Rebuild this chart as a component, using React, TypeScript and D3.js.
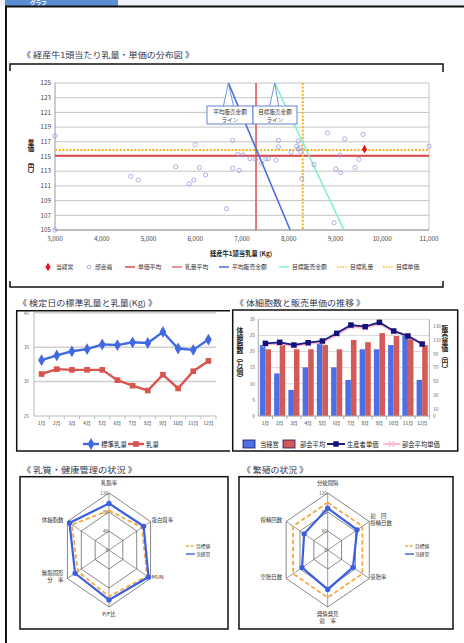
import React from 'react';
import * as d3 from 'd3';

const FONT = "'Noto Sans CJK JP','Noto Sans',sans-serif";

// ---------- scatter: milk per cow vs unit price ----------
const memberMilk = [3000, 3000, 4620, 4780, 5580, 5870, 5970, 6000, 6090, 6220, 6670, 6800, 6800, 6910, 6940, 7020, 7170, 7290, 7420, 7510, 7560, 7730, 7780, 7780, 8050, 8170, 8200, 8200, 8240, 8260, 8280, 8540, 8830, 9010, 9110, 9100, 8970, 9200, 9420, 9500, 9590, 11000];
const memberPrice = [117.8, 105, 112.3, 111.8, 113.6, 111.3, 111.8, 116.6, 113.5, 112.5, 107.9, 117.2, 113.4, 115.3, 113.1, 115.2, 114.7, 114.6, 114.1, 114.7, 114.7, 114.5, 117.2, 116.3, 115.6, 116.4, 117.1, 116.0, 116.2, 115.6, 112.0, 113.9, 118.2, 113.3, 112.8, 115.2, 106.0, 117.4, 113.5, 114.6, 118.0, 116.4];
const ownMilk = [9620];
const ownPrice = [116.0];
const avgPrice = 115.1;
const avgMilk = 7300;
const targetMilk = 8300;
const targetPrice = 115.9;
const avgRevMilk = [6710, 8030];
const avgRevPrice = [125, 105];
const tgtRevMilk = [7700, 9180];
const tgtRevPrice = [125, 105];
const milkTicks = [3000, 4000, 5000, 6000, 7000, 8000, 9000, 10000, 11000];
const priceTicks = [105, 107, 109, 111, 113, 115, 117, 119, 121, 123, 125];

// ---------- line chart ----------
const months = ['1月', '2月', '3月', '4月', '5月', '6月', '7月', '8月', '9月', '10月', '11月', '12月'];
const standardMilk = [33.1, 33.8, 34.4, 34.7, 35.4, 35.3, 35.7, 35.6, 37.2, 34.8, 34.6, 36.1];
const actualMilk = [31.1, 31.8, 31.7, 31.7, 31.7, 30.2, 29.4, 28.7, 31.0, 29.0, 31.5, 33.0];
const milkAxisTicks = [25, 30, 35, 40];

// ---------- bar + line chart ----------
const sccOwn = [22.0, 13.2, 8.1, 15.1, 22.6, 15.1, 11.2, 20.7, 20.7, 22.0, 25.2, 11.2];
const sccAvg = [20.7, 22.4, 20.7, 20.7, 22.0, 20.7, 23.6, 22.9, 25.7, 24.8, 23.8, 22.0];
const priceOwn = [105.2, 106.7, 102.8, 106.1, 108.6, 119.7, 131.7, 129.3, 135.6, 123.1, 115.8, 104.2];
const priceAvg = [103.8, 105.4, 101.8, 104.9, 107.3, 117.8, 129.6, 128.0, 134.0, 121.8, 116.4, 104.4];
const sccTicks = [0, 5, 10, 15, 20, 25, 30];
const priceAxisTicks = [0, 10, 30, 50, 70, 90, 110, 130];

// ---------- radars ----------
const qualityLabels = [['乳脂率'], ['蛋白質率'], ['MUN'], ['P/F比'], ['無脂固形', '分　率'], ['体細胞数']];
const qualityOwn = [98, 100, 114, 105, 98, 114];
const qualityTarget = [83, 95, 110, 98, 90, 107];
const breedingLabels = [['分娩間隔'], ['初　回', '授精日数'], ['受胎率'], ['発情発見', '効　率'], ['空胎日数'], ['授精回数']];
const breedingOwn = [88, 85, 73, 83, 74, 68];
const breedingTarget = [100, 100, 100, 100, 100, 100];
const radarTicks = [0, 40, 80, 120];

const BLUE = '#4169e1';
const RED = '#d9534f';

function Title({ x, y, text, len }: { x: number; y: number; text: string; len: number }) {
  return (
    <text x={x} y={y} fontSize={8} fill="#2f3550" textLength={len} lengthAdjust="spacingAndGlyphs">{text}</text>
  );
}

function Scatter() {
  const x = d3.scaleLinear().domain([3000, 11000]).range([55, 429]);
  const y = d3.scaleLinear().domain([105, 125]).range([230, 83]);
  const fmt = d3.format(',');
  const line = d3.line<[number, number]>().x(d => x(d[0])).y(d => y(d[1]));
  const avgPts = avgRevMilk.map((m, i) => [m, avgRevPrice[i]] as [number, number]);
  const tgtPts = tgtRevMilk.map((m, i) => [m, tgtRevPrice[i]] as [number, number]);
  const diamond = d3.symbol().type(d3.symbolDiamond).size(22)() as string;
  const legend = [
    { t: '当経営', kind: 'diamond', x: 48 },
    { t: '部会員', kind: 'circle', x: 89 },
    { t: '単価平均', kind: 'line', c: '#e04848', x: 125 },
    { t: '乳量平均', kind: 'line', c: '#e07070', x: 172 },
    { t: '平均販売金額', kind: 'line', c: '#4a6fe0', x: 219 },
    { t: '目標販売金額', kind: 'line', c: '#7ff0cc', x: 279 },
    { t: '目標乳量', kind: 'dot', c: '#f5b83a', x: 337 },
    { t: '目標単価', kind: 'dot', c: '#f5b83a', x: 383 },
  ];
  const a1 = avgPts[0];
  const a2 = tgtPts[0];
  return (
    <g>
      <Title x={22} y={58} text="《 経産牛1頭当たり乳量・単価の分布図 》" len={172} />
      <path d="M10,71 V64 H443 V72" fill="none" stroke="#111" strokeWidth={1.5} />
      <path d="M10,281 V287 H443 V281" fill="none" stroke="#111" strokeWidth={1.5} />
      {priceTicks.map(t => (
        <g key={t}>
          <line x1={55} x2={429} y1={y(t)} y2={y(t)} stroke="#c4c4c4" strokeWidth={1} />
          <text x={51} y={y(t) + 2.2} fontSize={6.3} textAnchor="end" fill="#444">{t}</text>
        </g>
      ))}
      <line x1={55} x2={55} y1={83} y2={230} stroke="#9a9a9a" />
      <line x1={429} x2={429} y1={83} y2={230} stroke="#c4c4c4" />
      <line x1={55} x2={429} y1={230} y2={230} stroke="#9a9a9a" />
      {milkTicks.map(t => (
        <text key={t} x={x(t)} y={241} fontSize={6.3} textAnchor="middle" fill="#444">{fmt(t)}</text>
      ))}
      <text x={241} y={256} fontSize={6.3} textAnchor="middle" fill="#222" fontWeight="bold">経産牛1頭当乳量 (Kg)</text>
      <text x={31} y={139} fontSize={6.5} fill="#222" fontWeight="bold" style={{ writingMode: 'vertical-rl' }}>単価</text>
      <text x={31} y={158} fontSize={6.5} fill="#222" fontWeight="bold" style={{ writingMode: 'vertical-rl' }}>（円）</text>
      {/* reference lines */}
      <line x1={55} x2={429} y1={y(avgPrice)} y2={y(avgPrice)} stroke="#e04848" strokeWidth={2} />
      <line x1={x(avgMilk)} x2={x(avgMilk)} y1={83} y2={230} stroke="#e05858" strokeWidth={1.6} />
      <line x1={55} x2={429} y1={y(targetPrice)} y2={y(targetPrice)} stroke="#f5b020" strokeWidth={2} strokeDasharray="2,1.6" />
      <line x1={x(targetMilk)} x2={x(targetMilk)} y1={83} y2={230} stroke="#f5b020" strokeWidth={2} strokeDasharray="2,1.6" />
      <path d={line(avgPts) || ''} stroke="#4a6fe0" strokeWidth={1.6} fill="none" />
      <path d={line(tgtPts) || ''} stroke="#7ff0cc" strokeWidth={1.6} fill="none" />
      {memberMilk.map((m, i) => (
        <circle key={i} cx={x(m)} cy={y(memberPrice[i])} r={2.1} fill="none" stroke="#9b9be0" strokeWidth={0.8} />
      ))}
      {ownMilk.map((m, i) => (
        <path key={i} d={diamond} transform={`translate(${x(m)},${y(ownPrice[i])})`} fill="#ee1111" />
      ))}
      {/* callouts */}
      <path d={`M${x(a1[0]) - 5},106 L${x(a1[0])},${y(a1[1])} L${x(a1[0]) + 5},106`} fill="#fff" stroke="#5577cc" strokeWidth={0.8} />
      <rect x={207} y={106} width={46} height={18} fill="#fff" stroke="#5577cc" strokeWidth={0.9} />
      <text x={230} y={114} fontSize={5.6} textAnchor="middle" fill="#333">平均販売金額</text>
      <text x={230} y={121.5} fontSize={5.6} textAnchor="middle" fill="#333">ライン</text>
      <path d={`M${x(a2[0]) - 5},106 L${x(a2[0])},${y(a2[1])} L${x(a2[0]) + 4},106`} fill="#fff" stroke="#5577cc" strokeWidth={0.8} />
      <rect x={253} y={106} width={44} height={18} fill="#fff" stroke="#5577cc" strokeWidth={0.9} />
      <text x={275} y={114} fontSize={5.6} textAnchor="middle" fill="#333">目標販売金額</text>
      <text x={275} y={121.5} fontSize={5.6} textAnchor="middle" fill="#333">ライン</text>
      {/* legend */}
      {legend.map(l => {
        const ly = 267;
        let sym = null;
        let tx = l.x + 13;
        if (l.kind === 'diamond') { sym = <path d={diamond} transform={`translate(${l.x},${ly})`} fill="#ee1111" />; tx = l.x + 8; }
        else if (l.kind === 'circle') { sym = <circle cx={l.x} cy={ly} r={1.8} fill="none" stroke="#9b9be0" strokeWidth={0.8} />; tx = l.x + 6; }
        else if (l.kind === 'line') sym = <line x1={l.x} x2={l.x + 10} y1={ly} y2={ly} stroke={l.c} strokeWidth={1.5} />;
        else sym = <line x1={l.x} x2={l.x + 10} y1={ly} y2={ly} stroke={l.c} strokeWidth={1.5} strokeDasharray="1.5,1.2" />;
        return (
          <g key={l.t}>
            {sym}
            <text x={tx} y={ly + 2.2} fontSize={5.8} fill="#333">{l.t}</text>
          </g>
        );
      })}
    </g>
  );
}

function MilkLine() {
  const x = d3.scaleBand().domain(months).range([34, 216]);
  const y = d3.scaleLinear().domain([25, 40]).range([416, 312.7]);
  const cx = (m: string) => (x(m) as number) + x.bandwidth() / 2;
  const line = d3.line<number>().x((_, i) => cx(months[i])).y(d => y(d));
  const diamond = d3.symbol().type(d3.symbolDiamond).size(40)() as string;
  const square = d3.symbol().type(d3.symbolSquare).size(32)() as string;
  return (
    <g>
      <Title x={18} y={306} text="《 検定日の標準乳量と乳量(Kg) 》" len={139} />
      <path d="M230,310.7 H16.7 V451 H230" fill="none" stroke="#111" strokeWidth={1.5} />
      {milkAxisTicks.map(t => (
        <g key={t}>
          {t > 25 && <line x1={34} x2={216} y1={y(t)} y2={y(t)} stroke="#cfcfcf" strokeWidth={1.5} />}
          <text x={29} y={y(t) + 1.8} fontSize={4.8} textAnchor="end" fill="#666">{t}</text>
        </g>
      ))}
      <line x1={34} x2={34} y1={312.7} y2={416} stroke="#bbb" />
      <line x1={34} x2={216} y1={416} y2={416} stroke="#bbb" />
      {months.map((m, i) => (
        <g key={m}>
          <line x1={(x(m) as number) + x.bandwidth()} x2={(x(m) as number) + x.bandwidth()} y1={416} y2={419} stroke="#bbb" />
          <text x={cx(m)} y={425} fontSize={4.8} textAnchor="middle" fill="#333">{m}</text>
        </g>
      ))}
      <path d={line(standardMilk) || ''} stroke={BLUE} strokeWidth={2.4} fill="none" />
      {standardMilk.map((v, i) => (
        <path key={i} d={diamond} transform={`translate(${cx(months[i])},${y(v)})`} fill={BLUE} />
      ))}
      <path d={line(actualMilk) || ''} stroke={RED} strokeWidth={2.4} fill="none" />
      {actualMilk.map((v, i) => (
        <path key={i} d={square} transform={`translate(${cx(months[i])},${y(v)})`} fill={RED} />
      ))}
      <line x1={83} x2={99} y1={444} y2={444} stroke={BLUE} strokeWidth={2.4} />
      <path d={diamond} transform="translate(91,444)" fill={BLUE} />
      <text x={101} y={446.5} fontSize={6.5} fill="#222">標準乳量</text>
      <line x1={128} x2={144} y1={444} y2={444} stroke={RED} strokeWidth={2.4} />
      <path d={square} transform="translate(136,444)" fill={RED} />
      <text x={146} y={446.5} fontSize={6.5} fill="#222">乳量</text>
    </g>
  );
}

function SccChart() {
  const x = d3.scaleBand().domain(months).range([258.3, 429.3]).paddingInner(0.22).paddingOuter(0.11);
  const yL = d3.scaleLinear().domain([0, 30]).range([416, 319.3]);
  const yR = d3.scaleLinear().domain([0, 140]).range([416, 319.3]);
  const bw = x.bandwidth() / 2;
  const cx = (m: string) => (x(m) as number) + x.bandwidth() / 2;
  const line = d3.line<number>().x((_, i) => cx(months[i])).y(d => yR(d));
  const square = d3.symbol().type(d3.symbolSquare).size(30)() as string;
  const cross = d3.symbol().type(d3.symbolX).size(22)() as string;
  const step = x.step();
  return (
    <g>
      <Title x={235} y={306} text="《 体細胞数と販売単価の推移 》" len={130} />
      <rect x={232.7} y={310} width={225} height={141} fill="none" stroke="#111" strokeWidth={1.5} />
      {sccTicks.map(t => (
        <g key={t}>
          <line x1={258.3} x2={429.3} y1={yL(t)} y2={yL(t)} stroke="#d0d0d0" strokeWidth={0.8} />
          <text x={255} y={yL(t) + 1.8} fontSize={4.8} textAnchor="end" fill="#666">{t}</text>
        </g>
      ))}
      {priceAxisTicks.map(t => (
        <text key={t} x={433} y={yR(t) + 1.8} fontSize={4.8} fill="#666">{t}</text>
      ))}
      <line x1={258.3} x2={258.3} y1={319.3} y2={416} stroke="#aaa" />
      <line x1={429.3} x2={429.3} y1={319.3} y2={416} stroke="#aaa" />
      {months.map((m, i) => (
        <g key={m}>
          <rect x={x(m) as number} y={yL(sccOwn[i])} width={bw} height={416 - yL(sccOwn[i])} fill="#4d6fe6" />
          <rect x={(x(m) as number) + bw} y={yL(sccAvg[i])} width={bw} height={416 - yL(sccAvg[i])} fill="#d25a58" />
          <line x1={258.3 + step * (i + 1)} x2={258.3 + step * (i + 1)} y1={416} y2={419} stroke="#aaa" />
          <text x={cx(m)} y={425} fontSize={4.8} textAnchor="middle" fill="#333">{m}</text>
        </g>
      ))}
      <line x1={258.3} x2={429.3} y1={416} y2={416} stroke="#aaa" />
      <path d={line(priceAvg) || ''} stroke="#ffb8cc" strokeWidth={2.6} fill="none" />
      {priceAvg.map((v, i) => (
        <path key={i} d={cross} transform={`translate(${cx(months[i])},${yR(v)})`} stroke="#ffb8cc" strokeWidth={1.2} fill="none" />
      ))}
      <path d={line(priceOwn) || ''} stroke="#1c1c8a" strokeWidth={1.8} fill="none" />
      {priceOwn.map((v, i) => (
        <path key={i} d={square} transform={`translate(${cx(months[i])},${yR(v)})`} fill="#12127a" />
      ))}
      <text x={240} y={327} fontSize={6.8} fontWeight="bold" fill="#222" style={{ writingMode: 'vertical-rl' }}>体細胞数（万個）</text>
      <text x={445} y={325} fontSize={6.8} fontWeight="bold" fill="#222" style={{ writingMode: 'vertical-rl' }}>販売単価（円）</text>
      {/* legend */}
      <rect x={243} y={440} width={12} height={8} fill="#4d6fe6" stroke="#1a1a60" strokeWidth={0.8} />
      <text x={260} y={446.5} fontSize={6.3} fill="#222">当経営</text>
      <rect x={283} y={440} width={12} height={8} fill="#d25a58" stroke="#1a1a60" strokeWidth={0.8} />
      <text x={300} y={446.5} fontSize={6.3} fill="#222">部会平均</text>
      <line x1={327} x2={345} y1={444} y2={444} stroke="#1c1c8a" strokeWidth={2} />
      <path d={square} transform="translate(336,444)" fill="#12127a" />
      <text x={347} y={446.5} fontSize={6.3} fill="#222">生産者単価</text>
      <line x1={383} x2={400} y1={444} y2={444} stroke="#ffb8cc" strokeWidth={2} />
      <path d={cross} transform="translate(391.5,444)" stroke="#ffb8cc" strokeWidth={1.2} fill="none" />
      <text x={402} y={446.5} fontSize={6.3} fill="#222">部会平均単価</text>
    </g>
  );
}

function Radar({ cx, cy, labels, own, target, legendX }: { cx: number; cy: number; labels: string[][]; own: number[]; target: number[]; legendX: number }) {
  const r = d3.scaleLinear().domain([0, 120]).range([0, 1]);
  const RY = 57;
  const RX = 48;
  const n = labels.length;
  const ang = (i: number) => (i * 2 * Math.PI) / n;
  const pt = (i: number, v: number): [number, number] => [cx + RX * r(v) * Math.sin(ang(i)), cy - RY * r(v) * Math.cos(ang(i))];
  const poly = (vals: number[]) => d3.line<number>().x((v, i) => pt(i, v)[0]).y((v, i) => pt(i, v)[1]).curve(d3.curveLinearClosed)(vals) || '';
  return (
    <g>
      {radarTicks.filter(t => t > 0).map(t => (
        <path key={t} d={poly(labels.map(() => t))} fill="none" stroke="#555" strokeWidth={0.7} />
      ))}
      {labels.map((_, i) => {
        const [ex, ey] = pt(i, 120);
        return <line key={i} x1={cx} y1={cy} x2={ex} y2={ey} stroke="#555" strokeWidth={0.6} />;
      })}
      {radarTicks.map(t => (
        <text key={t} x={cx - 1} y={cy - RY * r(t) + 2} fontSize={4.6} textAnchor="end" fill="#555">{t}</text>
      ))}
      <path d={poly(target)} fill="none" stroke="#f5a848" strokeWidth={1.8} strokeDasharray="4.5,2.5" />
      <path d={poly(own)} fill="none" stroke="#3a5fe0" strokeWidth={2.2} />
      {own.map((v, i) => {
        const [px, py] = pt(i, v);
        return <circle key={i} cx={px} cy={py} r={2.6} fill="#3a5fe0" />;
      })}
      {labels.map((lab, i) => {
        const [vx, vy] = pt(i, 120);
        const s = Math.sin(ang(i));
        let anchor: 'start' | 'end' | 'middle' = 'middle';
        let tx = vx;
        let ty = vy;
        if (Math.abs(s) < 0.01) {
          ty = Math.cos(ang(i)) > 0 ? vy - 8 - (lab.length - 1) * 7 : vy + 9;
        } else if (s > 0) { anchor = 'start'; tx = vx + 1; ty = vy - (lab.length - 1) * 3.5; }
        else { anchor = 'end'; tx = vx - 4; ty = vy - (lab.length - 1) * 3.5; }
        return (
          <text key={i} x={tx} y={ty} fontSize={5.4} textAnchor={anchor} fill="#333">
            {lab.map((l, j) => <tspan key={j} x={tx} dy={j === 0 ? 0 : 7}>{l}</tspan>)}
          </text>
        );
      })}
      <line x1={legendX} x2={legendX + 9} y1={546} y2={546} stroke="#f5a848" strokeWidth={1.4} strokeDasharray="3,1.5" />
      <text x={legendX + 10} y={548} fontSize={4.8} fill="#333">目標値</text>
      <line x1={legendX} x2={legendX + 9} y1={554} y2={554} stroke="#3a5fe0" strokeWidth={1.4} />
      <text x={legendX + 10} y={556} fontSize={4.8} fill="#333">当経営</text>
    </g>
  );
}

export default function App() {
  return (
    <svg width={464} height={643} style={{ position: 'absolute', left: 0, top: 0, fontFamily: FONT }}>
      <rect width={464} height={643} fill="#fff" />
      <rect x={0} y={0} width={464} height={6} fill="#eef2f7" />
      <rect x={5} y={0} width={113} height={6} fill="#5a8fd3" />
      <text x={30} y={5.2} fontSize={5.5} fill="#fff" fontWeight="bold">グラフ</text>
      <rect x={6} y={6.5} width={470} height={650} fill="none" stroke="#111" strokeWidth={2} />
      <Scatter />
      <MilkLine />
      <SccChart />
      <Title x={22} y={473} text="《 乳質・健康管理の状況 》" len={115} />
      <rect x={20} y={476.7} width={208} height={152.3} fill="none" stroke="#111" strokeWidth={1.5} />
      <Radar cx={109} cy={550} labels={qualityLabels} own={qualityOwn} target={qualityTarget} legendX={186} />
      <Title x={242} y={473} text="《 繁殖の状況 》" len={66} />
      <rect x={239} y={476.7} width={214} height={152.3} fill="none" stroke="#111" strokeWidth={1.5} />
      <Radar cx={327.7} cy={550} labels={breedingLabels} own={breedingOwn} target={breedingTarget} legendX={405} />
    </svg>
  );
}
